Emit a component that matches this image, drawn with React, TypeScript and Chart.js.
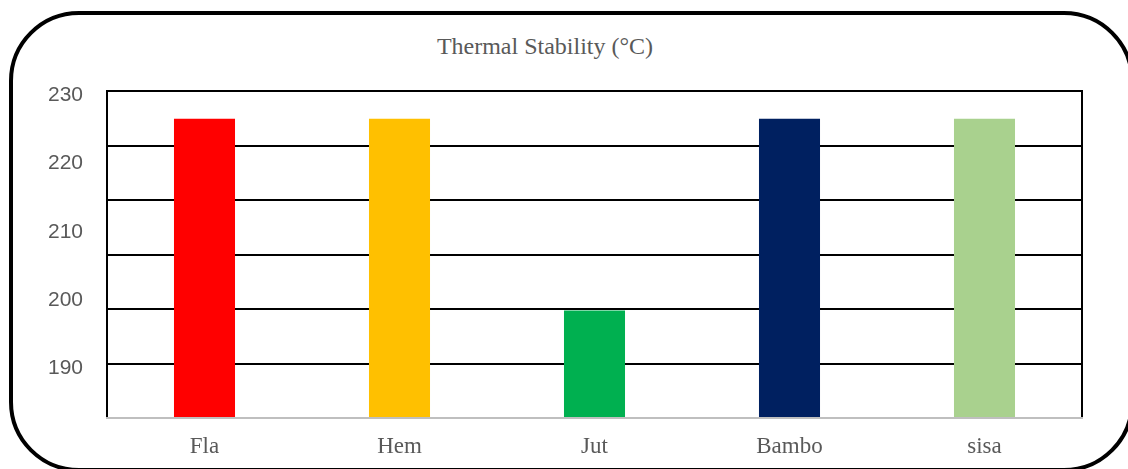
import { useEffect, useRef } from 'react';
import { Chart, registerables } from 'chart.js';

Chart.register(...registerables);

// Fibre categories and their thermal stability readings (°C)
const categories = ['Fla', 'Hem', 'Jut', 'Bambo', 'sisa'];
const stability = [226.5, 226.5, 198.5, 226.5, 226.5];
const barColors = ['#FF0000', '#FFC000', '#00B050', '#002060', '#A9D18E'];

// Value axis: labelled ticks and visible range
const yTickLabels = [190, 200, 210, 220, 230];
const yMin = 182.8;
const yMax = 230.55;

// Horizontal rules drawn across the plot (evenly spaced bands)
const gridBands = 6;

const titleText = 'Thermal Stability (°C)';

export default function App() {
  const canvasRef = useRef<HTMLCanvasElement>(null);

  useEffect(() => {
    const canvas = canvasRef.current;
    if (!canvas) return;
    const chart = new Chart(canvas, {
      type: 'bar',
      data: {
        labels: categories,
        datasets: [
          {
            data: stability,
            backgroundColor: barColors,
            borderWidth: 0,
            barPercentage: 0.313,
            categoryPercentage: 1,
          },
        ],
      },
      options: {
        animation: false,
        responsive: false,
        layout: { padding: { left: 0, right: 46, top: 91, bottom: 0 } },
        plugins: {
          legend: { display: false },
          tooltip: { enabled: false },
          title: { display: false },
        },
        scales: {
          x: {
            grid: { display: false, drawTicks: false },
            border: { display: true, color: '#bfbfbf', width: 2, z: 1 },
            ticks: {
              color: '#595959',
              padding: 15,
              font: { family: '"Liberation Serif", "Times New Roman", serif', size: 23 },
            },
            afterFit: (s: any) => {
              s.height = 35;
              s.paddingLeft = 0;
              s.paddingRight = 0;
            },
          },
          y: {
            position: 'left',
            min: yMin,
            max: yMax,
            afterBuildTicks: (s: any) => {
              s.ticks = yTickLabels.map((v) => ({ value: v }));
            },
            grid: { display: false, drawTicks: false },
            border: { display: true, color: '#000000', width: 2 },
            ticks: {
              color: '#595959',
              padding: 24,
              font: { family: '"Liberation Sans", Arial, sans-serif', size: 21 },
            },
            afterFit: (s: any) => {
              s.width = 107;
              s.paddingTop = 0;
              s.paddingBottom = 0;
            },
          },
          rules: {
            position: 'right',
            min: 0,
            max: gridBands,
            ticks: { display: false, stepSize: 1 },
            grid: {
              drawTicks: false,
              lineWidth: 2,
              color: (ctx: any) =>
                ctx.tick && ctx.tick.value === 0 ? 'rgba(0,0,0,0)' : '#000000',
            },
            border: { display: true, color: '#000000', width: 2 },
            afterFit: (s: any) => {
              s.width = 0;
              s.paddingTop = 0;
              s.paddingBottom = 0;
            },
          },
        },
      } as any,
    });
    return () => chart.destroy();
  }, []);

  return (
    <div
      style={{
        position: 'fixed',
        left: 0,
        top: 0,
        width: 1128,
        height: 469,
        overflow: 'hidden',
        background: '#ffffff',
      }}
    >
      <div
        style={{
          position: 'absolute',
          left: 9,
          top: 11,
          width: 1125,
          height: 461,
          boxSizing: 'border-box',
          border: '4px solid #000000',
          borderRadius: 70,
        }}
      />
      <div
        style={{
          position: 'absolute',
          left: 0,
          top: 34,
          width: 1090,
          textAlign: 'center',
          fontFamily: '"Liberation Serif", "Times New Roman", serif',
          fontSize: 24,
          lineHeight: '24px',
          color: '#595959',
        }}
      >
        {titleText}
      </div>
      <canvas
        ref={canvasRef}
        width={1128}
        height={453}
        style={{ position: 'absolute', left: 0, top: 0, width: 1128, height: 453 }}
      />
    </div>
  );
}
